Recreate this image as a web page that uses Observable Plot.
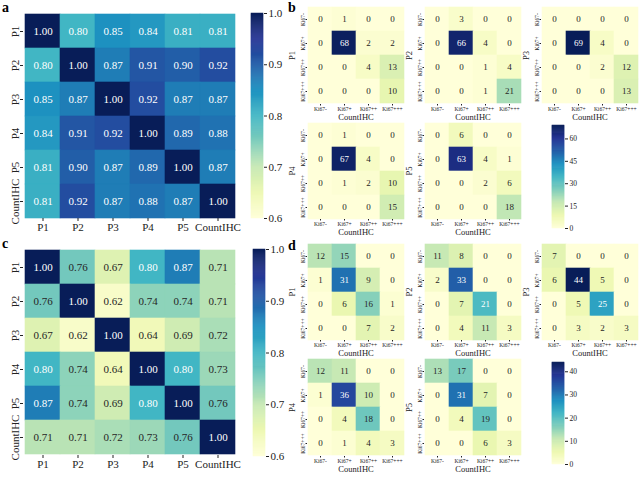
<!DOCTYPE html>
<html>
<head>
<meta charset="utf-8">
<script src="https://cdn.jsdelivr.net/npm/d3@7"></script>
<script src="https://cdn.jsdelivr.net/npm/@observablehq/plot@0.6"></script>
<style>
  html, body { margin: 0; padding: 0; background: white; }
  #fig { position: relative; width: 640px; height: 477px; overflow: hidden; font-family: "Liberation Serif", serif; }
  #fig svg, #fig svg text { font-family: "Liberation Serif", serif !important; }
  .piece { position: absolute; }
  .tag { position: absolute; font: bold 14px "Liberation Serif", serif; line-height: 1; }
</style>
</head>
<body>
<div id="fig"></div>
<script>
// ---- data -------------------------------------------------------------
const methods = ["P1", "P2", "P3", "P4", "P5", "CountIHC"];
const raters = ["P1", "P2", "P3", "P4", "P5"];
const grades = ["Ki67-", "Ki67+", "Ki67++", "Ki67+++"];

// agreement between methods, first cohort
const corrA = [
  [1.00, 0.80, 0.85, 0.84, 0.81, 0.81],
  [0.80, 1.00, 0.87, 0.91, 0.90, 0.92],
  [0.85, 0.87, 1.00, 0.92, 0.87, 0.87],
  [0.84, 0.91, 0.92, 1.00, 0.89, 0.88],
  [0.81, 0.90, 0.87, 0.89, 1.00, 0.87],
  [0.81, 0.92, 0.87, 0.88, 0.87, 1.00]
];
// agreement between methods, second cohort
const corrC = [
  [1.00, 0.76, 0.67, 0.80, 0.87, 0.71],
  [0.76, 1.00, 0.62, 0.74, 0.74, 0.71],
  [0.67, 0.62, 1.00, 0.64, 0.69, 0.72],
  [0.80, 0.74, 0.64, 1.00, 0.80, 0.73],
  [0.87, 0.74, 0.69, 0.80, 1.00, 0.76],
  [0.71, 0.71, 0.72, 0.73, 0.76, 1.00]
];
// rater grade (rows) vs CountIHC grade (columns), first cohort
const confB = {
  P1: [[0, 1, 0, 0], [0, 68, 2, 2], [0, 0, 4, 13], [0, 0, 0, 10]],
  P2: [[0, 3, 0, 0], [0, 66, 4, 0], [0, 0, 1, 4], [0, 0, 1, 21]],
  P3: [[0, 0, 0, 0], [0, 69, 4, 0], [0, 0, 2, 12], [0, 0, 0, 13]],
  P4: [[0, 1, 0, 0], [0, 67, 4, 0], [0, 1, 2, 10], [0, 0, 0, 15]],
  P5: [[0, 6, 0, 0], [0, 63, 4, 1], [0, 0, 2, 6], [0, 0, 0, 18]]
};
// rater grade (rows) vs CountIHC grade (columns), second cohort
const confD = {
  P1: [[12, 15, 0, 0], [1, 31, 9, 0], [0, 6, 16, 1], [0, 0, 7, 2]],
  P2: [[11, 8, 0, 0], [2, 33, 0, 0], [0, 7, 21, 0], [0, 4, 11, 3]],
  P3: [[7, 0, 0, 0], [6, 44, 5, 0], [0, 5, 25, 0], [0, 3, 2, 3]],
  P4: [[12, 11, 0, 0], [1, 36, 10, 0], [0, 4, 18, 0], [0, 1, 4, 3]],
  P5: [[13, 17, 0, 0], [0, 31, 7, 0], [0, 4, 19, 0], [0, 0, 6, 3]]
};
const corrDomain = [0.6, 1.0];
const corrTicks = [0.6, 0.7, 0.8, 0.9, 1.0];
const countDomainB = [0, 69];
const countTicksB = [0, 15, 30, 45, 60];
const countDomainD = [0, 44];
const countTicksD = [0, 10, 20, 30, 40];

// ---- helpers ----------------------------------------------------------
const FONT = '"Liberation Serif", serif';
const YLGNBU = ["#ffffd9", "#edf8b1", "#c7e9b4", "#7fcdbb", "#41b6c4", "#1d91c0", "#225ea8", "#253494", "#081d58"];
const ramp = d3.piecewise(d3.interpolateRgb, YLGNBU);
const fig = document.getElementById("fig");

function place(node, left, top) {
  const div = document.createElement("div");
  div.className = "piece";
  div.style.left = left + "px";
  div.style.top = top + "px";
  div.appendChild(node);
  fig.appendChild(div);
}
function tag(text, left, top) {
  const div = document.createElement("div");
  div.className = "tag";
  div.textContent = text;
  div.style.left = left + "px";
  div.style.top = top + "px";
  fig.appendChild(div);
}
// dark cells get white annotations (relative-luminance rule)
function isDark(value, domain) {
  const t = (value - domain[0]) / (domain[1] - domain[0]);
  const c = d3.rgb(ramp(Math.max(0, Math.min(1, t))));
  const lin = v => { v /= 255; return v <= 0.03928 ? v / 12.92 : Math.pow((v + 0.055) / 1.055, 2.4); };
  return 0.2126 * lin(c.r) + 0.7152 * lin(c.g) + 0.0722 * lin(c.b) <= 0.408;
}
function cellsOf(matrix, rows, cols) {
  return matrix.flatMap((r, i) => r.map((value, j) => ({row: rows[i], col: cols[j], value})));
}

function heatmap(o) {
  const cells = cellsOf(o.matrix, o.rows, o.cols);
  const ch = {x: "col", y: "row", text: d => o.format(d.value), fontSize: o.valueSize};
  const marks = [
    Plot.cell(cells, {x: "col", y: "row", fill: "value", stroke: "value", strokeWidth: 0.6}),
    Plot.text(cells.filter(d => isDark(d.value, o.domain)), {...ch, fill: "white"}),
    Plot.text(cells.filter(d => !isDark(d.value, o.domain)), {...ch, fill: "#262626"}),
    Plot.axisX({tickSize: o.xTickSize, tickPadding: o.xTickPad, fontSize: o.xTickFont, label: null}),
    Plot.axisY({tickSize: o.yTickSize, tickFormat: () => "", label: null}),
    Plot.text(o.rows, {y: d => d, text: d => d, frameAnchor: "left", rotate: -90,
      textAnchor: "middle", lineAnchor: "bottom", dx: o.yTextDx, fontSize: o.yTickFont})
  ];
  if (o.yLabel) marks.push(Plot.text([o.yLabel], {frameAnchor: "left", rotate: -90,
    textAnchor: "middle", lineAnchor: "bottom", dx: o.yLabelDx, fontSize: o.labelSize}));
  if (o.xLabel) marks.push(Plot.text([o.xLabel], {frameAnchor: "bottom", lineAnchor: "top",
    textAnchor: "middle", dy: o.xLabelDy, fontSize: o.labelSize}));
  return Plot.plot({
    width: o.width, height: o.height,
    marginLeft: o.ml, marginRight: o.mr, marginTop: o.mt, marginBottom: o.mb,
    style: {fontFamily: FONT, background: "transparent", overflow: "visible", maxWidth: "none", color: "#222"},
    x: {domain: o.cols, padding: 0},
    y: {domain: o.rows, padding: 0},
    color: {type: "linear", domain: o.domain, interpolate: ramp},
    marks
  });
}

function colorbar(o) {
  const n = 200, step = (o.domain[1] - o.domain[0]) / n;
  const stops = d3.range(n).map(i => o.domain[0] + i * step);
  return Plot.plot({
    width: o.ml + o.bar + o.mr, height: o.height,
    marginLeft: o.ml, marginRight: o.mr, marginTop: o.mt, marginBottom: o.mb,
    style: {fontFamily: FONT, background: "transparent", overflow: "visible", maxWidth: "none", color: "#222"},
    x: {domain: [0, 1], axis: null},
    y: {domain: o.domain},
    color: {type: "linear", domain: o.domain, interpolate: ramp},
    marks: [
      Plot.rect(stops, {x1: 0, x2: 1, y1: d => d, y2: d => d + step, fill: d => d + step / 2,
        stroke: d => d + step / 2, strokeWidth: 0.5}),
      Plot.axisY({anchor: "right", ticks: o.ticks, tickSize: 3, tickPadding: 2,
        tickFormat: o.format, fontSize: o.font, label: null})
    ]
  });
}

// ---- panels a and c: method-by-method agreement -----------------------
const f2 = d3.format(".2f"), f1 = d3.format(".1f");
const bigOpts = {rows: methods, cols: methods, domain: corrDomain, format: f2, valueSize: 11,
  xTickSize: 3, xTickPad: 2, xTickFont: 11, yTickSize: 3, yTickFont: 11, yTextDx: -5,
  width: 240, height: 240, ml: 23, mr: 3};

place(heatmap({...bigOpts, matrix: corrA, mt: 13, mb: 22}), 0, 0);
place(colorbar({domain: corrDomain, ticks: corrTicks, format: f1, font: 11,
  ml: 11, bar: 12, mr: 24, height: 240, mt: 13, mb: 22}), 240, 0);

place(heatmap({...bigOpts, matrix: corrC, mt: 13, mb: 21}), 0, 236);
place(colorbar({domain: corrDomain, ticks: corrTicks, format: f1, font: 11,
  ml: 13, bar: 12, mr: 24, height: 240, mt: 13, mb: 20}), 240, 236);

// ---- panels b and d: rater vs CountIHC grade tables -------------------
const colX = [307, 424, 541];
const smallOpts = {rows: grades, cols: grades, format: d3.format("d"), valueSize: 9,
  xTickSize: 1.5, xTickPad: 1.5, xTickFont: 5.5, yTickSize: 1.5, yTickFont: 5.5, yTextDx: -2.5,
  yLabelDx: -12.5, xLabel: "CountIHC", xLabelDy: 9, labelSize: 8.5,
  width: 122, ml: 22, mr: 3, mt: 6};

function panel(conf, domain, rowY, rowH) {
  raters.forEach((r, i) => {
    const col = i % 3, row = Math.floor(i / 3);
    const y0 = rowY[row], h = rowH[row];
    place(heatmap({...smallOpts, matrix: conf[r], domain, yLabel: r,
      height: 6 + h + 18, mb: 18}), colX[col] - 22, y0 - 6);
  });
}
panel(confB, countDomainB, [6, 122], [98, 97]);
panel(confD, countDomainD, [243, 358], [97, 98]);

place(colorbar({domain: countDomainB, ticks: countTicksB, format: d3.format("d"), font: 7.5,
  ml: 12, bar: 12, mr: 22, height: 113, mt: 5, mb: 5}), 540, 120);
place(colorbar({domain: countDomainD, ticks: countTicksD, format: d3.format("d"), font: 7.5,
  ml: 12, bar: 12, mr: 22, height: 113, mt: 5, mb: 6}), 540, 357);

// ---- panel tags --------------------------------------------------------
tag("a", 2, 1);
tag("b", 288, 1);
tag("c", 2, 237);
tag("d", 288, 239);
</script>
</body>
</html>
